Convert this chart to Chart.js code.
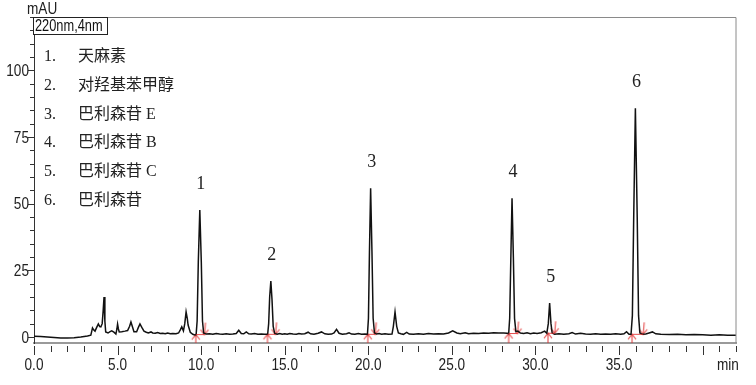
<!DOCTYPE html>
<html>
<head>
<meta charset="utf-8">
<script src="https://cdn.jsdelivr.net/npm/chart.js@4.4.0/dist/chart.umd.min.js"></script>
<style>
  body { margin: 0; background: #fff; }
  #wrap { width: 756px; height: 385px; }
</style>
</head>
<body>
<div id="wrap"><canvas id="chrom" width="756" height="385"></canvas></div>
<script>
// --- Daten: Chromatogramm 220nm ---
const retTime = [
  0.0, 0.4, 0.8, 1.2, 1.6, 2.0, 2.4, 2.8, 3.2, 3.40, 3.45, 3.50, 3.58, 3.65, 3.75, 3.85, 3.93, 4.00, 4.08, 4.14,
  4.19, 4.24, 4.29, 4.43, 4.55, 4.65, 4.78, 4.90, 4.96, 5.00, 5.05, 5.10, 5.25, 5.44, 5.60, 5.72, 5.80, 5.88, 5.98, 6.14,
  6.24, 6.34, 6.45, 6.58, 6.72, 6.84, 7.00, 7.10, 7.25, 7.40, 7.55, 7.70, 7.85, 8.00, 8.15, 8.30, 8.50, 8.65, 8.76, 8.84,
  8.94, 9.02, 9.10, 9.17, 9.22, 9.35, 9.50, 9.62, 9.70, 9.76, 9.83, 9.92, 10.01, 10.08, 10.15, 10.30, 10.50, 10.70, 10.90, 11.10,
  11.30, 11.50, 11.70, 11.90, 12.10, 12.25, 12.40, 12.55, 12.70, 12.85, 13.00, 13.20, 13.40, 13.60, 13.80, 13.98, 14.04, 14.10, 14.17, 14.24,
  14.31, 14.40, 14.55, 14.70, 14.85, 15.00, 15.15, 15.30, 15.50, 15.70, 15.85, 16.00, 16.20, 16.40, 16.55, 16.75, 17.00, 17.20, 17.40, 17.60,
  17.80, 17.95, 18.10, 18.25, 18.45, 18.70, 18.85, 19.00, 19.20, 19.40, 19.60, 19.80, 19.95, 20.01, 20.07, 20.14, 20.22, 20.29, 20.37, 20.50,
  20.65, 20.80, 21.00, 21.20, 21.42, 21.50, 21.60, 21.70, 21.80, 21.95, 22.10, 22.30, 22.45, 22.70, 23.00, 23.30, 23.60, 23.90, 24.20, 24.50,
  24.80, 25.05, 25.30, 25.50, 25.80, 26.00, 26.30, 26.60, 26.90, 27.20, 27.50, 27.80, 28.10, 28.30, 28.40, 28.46, 28.53, 28.60, 28.68, 28.75,
  28.83, 28.95, 29.10, 29.30, 29.50, 29.70, 29.90, 30.10, 30.35, 30.55, 30.68, 30.77, 30.85, 30.93, 31.00, 31.15, 31.40, 31.70, 32.00, 32.20,
  32.40, 32.70, 33.00, 33.30, 33.60, 33.90, 34.20, 34.50, 34.80, 35.10, 35.30, 35.45, 35.60, 35.72, 35.80, 35.88, 35.98, 36.09, 36.17, 36.25,
  36.40, 36.60, 36.80, 37.00, 37.20, 37.50, 38.00, 38.50, 39.00, 39.50, 40.00, 40.50, 41.00, 41.50, 42.00
];
const absorb = [
  0.3, 0.2, 0.0, -0.2, -0.35, -0.4, -0.3, 0.0, 0.4, 0.7, 2.0, 3.4, 2.6, 2.2, 3.6, 4.9, 3.9, 3.8, 5.0, 10.0,
  15.0, 6.0, 1.9, 1.5, 2.0, 2.3, 1.8, 1.1, 3.0, 4.8, 3.0, 1.9, 2.0, 2.2, 2.4, 4.0, 5.6, 4.0, 2.0, 2.0,
  3.5, 4.9, 3.6, 2.2, 1.8, 1.5, 1.9, 1.5, 1.4, 1.7, 1.3, 1.4, 1.2, 1.5, 1.2, 1.3, 1.2, 1.5, 2.8, 3.8,
  2.3, 5.0, 9.4, 7.0, 4.5, 1.8, 1.0, 0.8, 0.9, 6.0, 28.0, 47.6, 28.0, 6.0, 1.5, 1.1, 1.2, 1.0, 1.3, 1.1,
  1.0, 1.2, 1.0, 1.1, 1.3, 2.5, 1.3, 1.2, 1.9, 1.2, 1.1, 1.3, 1.0, 1.1, 1.0, 1.0, 5.0, 15.0, 21.0, 14.0,
  4.0, 1.3, 1.0, 1.3, 1.0, 1.2, 1.0, 1.3, 1.1, 1.0, 1.3, 1.1, 1.2, 1.8, 1.2, 1.0, 1.4, 1.9, 1.2, 1.0,
  1.1, 1.5, 2.9, 1.4, 1.0, 1.2, 1.6, 1.1, 1.0, 1.3, 1.0, 1.1, 1.0, 7.0, 32.0, 55.8, 32.0, 7.0, 1.5, 1.1,
  1.3, 1.0, 1.2, 1.0, 1.1, 4.0, 9.4, 4.0, 1.5, 1.2, 1.0, 1.7, 1.1, 1.0, 1.2, 1.0, 1.3, 1.1, 1.2, 1.1,
  1.5, 2.3, 1.5, 1.2, 1.6, 1.2, 1.4, 1.3, 1.5, 1.4, 1.6, 1.5, 1.5, 1.4, 1.3, 7.0, 30.0, 52.0, 30.0, 7.0,
  2.0, 2.2, 1.5, 1.3, 1.6, 1.2, 1.5, 1.3, 1.6, 2.2, 1.4, 5.0, 12.7, 5.0, 1.5, 1.0, 1.2, 1.0, 1.2, 1.7,
  1.1, 1.4, 1.1, 1.0, 1.2, 1.0, 1.1, 1.0, 1.2, 1.0, 1.2, 2.0, 1.0, 1.0, 8.0, 45.0, 85.8, 45.0, 8.0, 1.5,
  1.0, 1.1, 1.5, 1.9, 1.2, 1.0, 0.9, 1.0, 0.8, 0.9, 0.8, 0.7, 0.8, 0.7, 0.7
];

// Peaknummern und Namen
const peakTimes = [9.92, 14.17, 20.14, 28.60, 30.85, 35.98];
const peakNames = ['天麻素', '对羟基苯甲醇', '巴利森苷 E', '巴利森苷 B', '巴利森苷 C', '巴利森苷'];

// Integrationsmarker (Start / Ende)
const markerStart = [9.68, 13.97, 19.97, 28.40, 30.75, 35.78];
const markerEnd = [10.20, 14.45, 20.42, 28.93, 31.15, 36.45];
const markerLevel = [0.9, 1.0, 1.0, 1.3, 1.4, 1.0];

// Achsen
const xTickLabels = ['0.0', '5.0', '10.0', '15.0', '20.0', '25.0', '30.0', '35.0'];
const yTickLabels = [0, 25, 50, 75, 100];

const sans = "'Liberation Sans', Arial, sans-serif";
const serif = "'Liberation Serif', 'Noto Sans CJK SC', serif";
const red = 'rgba(225,45,45,0.85)';

// schmale Schrift (Arial Narrow gibt es nicht) -> horizontal stauchen
function narrowText(ctx, txt, x, y, align) {
    ctx.save();
    ctx.translate(x, y);
    ctx.scale(0.8, 1);
    ctx.textAlign = align;
    ctx.fillText(txt, 0, 0);
    ctx.restore();
}

// Pfeil-Symbole für die Marker
function makeArrow(up) {
    const c = document.createElement('canvas');
    c.width = 12; c.height = 26;
    const g = c.getContext('2d');
    g.strokeStyle = red;
    g.lineWidth = 1.1;
    g.beginPath();
    if (up) {
        g.moveTo(6, 13); g.lineTo(6, 24);
        g.moveTo(2, 18); g.lineTo(6, 13); g.lineTo(10, 18);
    } else {
        g.moveTo(7, 1); g.lineTo(6, 13);
        g.moveTo(2, 8); g.lineTo(6, 13); g.lineTo(10, 8);
    }
    g.stroke();
    return c;
}

const mainData = retTime.map((t, i) => ({ x: t, y: absorb[i] }));
const segData = [];
markerStart.forEach((t, i) => {
    segData.push({ x: t, y: markerLevel[i] }, { x: markerEnd[i], y: markerLevel[i] }, { x: markerEnd[i] + 0.01, y: null });
});

function apexOf(t) {
    let best = -Infinity;
    retTime.forEach((rt, i) => { if (Math.abs(rt - t) < 0.05 && absorb[i] > best) best = absorb[i]; });
    return best;
}

const deco = {
    id: 'deco',
    afterDraw(chart) {
        const { ctx, chartArea: a, scales: { x, y } } = chart;
        ctx.save();
        // Rahmen oben / rechts
        ctx.strokeStyle = '#8a8a8a';
        ctx.lineWidth = 1;
        ctx.beginPath();
        ctx.moveTo(a.left, a.top + 0.5); ctx.lineTo(a.right, a.top + 0.5); ctx.lineTo(a.right, a.bottom);
        ctx.stroke();

        // Ticks y
        ctx.strokeStyle = '#333';
        ctx.beginPath();
        y.ticks.forEach(t => {
            const py = Math.round(y.getPixelForValue(t.value)) + 0.5;
            const len = t.value % 25 === 0 ? 6 : 4;
            ctx.moveTo(a.left - len, py); ctx.lineTo(a.left, py);
        });
        // Ticks x
        x.ticks.forEach(t => {
            const px = Math.round(x.getPixelForValue(t.value)) + 0.5;
            const len = t.value % 5 === 0 ? 9 : 6;
            ctx.moveTo(px, a.bottom + 3); ctx.lineTo(px, a.bottom + 3 + len);
        });
        ctx.stroke();

        // Tick-Beschriftung
        ctx.fillStyle = '#222';
        ctx.font = '17px ' + sans;
        ctx.textBaseline = 'middle';
        yTickLabels.forEach(v => narrowText(ctx, String(v), a.left - 5, y.getPixelForValue(v) + 1, 'right'));
        xTickLabels.forEach((l, i) => narrowText(ctx, l, x.getPixelForValue(i * 5), 365, 'center'));

        // Achsentitel
        narrowText(ctx, 'mAU', 27, 9, 'left');
        narrowText(ctx, 'min', 717, 365, 'left');

        // Wellenlängen-Box
        ctx.fillStyle = '#fff';
        ctx.fillRect(33, 17, 74, 17);
        ctx.strokeStyle = '#222';
        ctx.strokeRect(33.5, 17.5, 74, 17);
        ctx.fillStyle = '#111';
        ctx.font = '16px ' + sans;
        narrowText(ctx, '220nm,4nm', 35, 26.5, 'left');

        // Legende
        ctx.font = '16px ' + serif;
        ctx.fillStyle = '#222';
        ctx.textAlign = 'left';
        peakNames.forEach((n, i) => {
            const py = 57 + i * 28.7;
            ctx.fillText((i + 1) + '.', 44, py);
            ctx.fillText(n, 78, py);
        });

        // Peaknummern
        ctx.font = '18px ' + serif;
        ctx.textAlign = 'center';
        peakTimes.forEach((t, i) => {
            ctx.fillText(String(i + 1), x.getPixelForValue(t) + 1, y.getPixelForValue(apexOf(t)) - 26);
        });
        ctx.restore();
    }
};

new Chart(document.getElementById('chrom'), {
    type: 'line',
    data: {
        datasets: [
            {
                data: segData,
                borderColor: red,
                borderWidth: 1,
                pointRadius: 0,
                spanGaps: false
            },
            {
                data: mainData,
                borderColor: '#111',
                borderWidth: 1.5,
                pointRadius: 0,
                tension: 0
            },
            {
                data: markerStart.map((t, i) => ({ x: t, y: markerLevel[i] })),
                showLine: false,
                pointStyle: makeArrow(true),
                pointRadius: 6
            },
            {
                data: markerEnd.map((t, i) => ({ x: t, y: markerLevel[i] })),
                showLine: false,
                pointStyle: makeArrow(false),
                pointRadius: 6
            }
        ]
    },
    options: {
        responsive: false,
        animation: false,
        layout: { padding: { top: 17, right: 20, left: 0, bottom: 0 } },
        plugins: { legend: { display: false }, tooltip: { enabled: false } },
        scales: {
            x: {
                type: 'linear',
                min: 0,
                max: 42,
                afterFit: s => { s.height = 42; },
                grid: { display: false, drawTicks: false },
                border: { color: '#9a9a9a', width: 2 },
                ticks: { stepSize: 1, autoSkip: false, includeBounds: false, display: false }
            },
            y: {
                min: -2.25,
                max: 120,
                afterFit: s => { s.width = 34; },
                grid: { display: false, drawTicks: false },
                border: { color: '#333', width: 1 },
                ticks: { stepSize: 5, autoSkip: false, includeBounds: false, display: false }
            }
        }
    },
    plugins: [deco]
});
</script>
</body>
</html>
